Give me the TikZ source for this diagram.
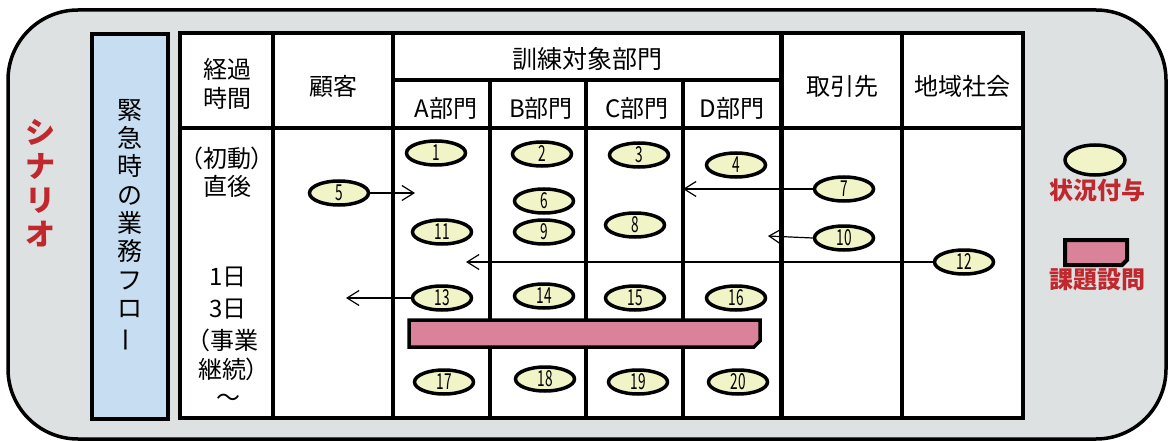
\documentclass[tikz,border=0pt]{standalone}
\usepackage{fontspec}
\setmainfont{Noto Sans CJK JP}
\newfontfamily\jpp[RawFeature=+palt]{Noto Sans CJK JP}
\usetikzlibrary{arrows.meta,shapes.geometric}
\definecolor{bgray}{HTML}{DEE1E2}
\definecolor{bblue}{HTML}{C6DDF2}
\definecolor{bpink}{HTML}{D9829A}
\definecolor{eyel}{HTML}{F0F4C6}
\definecolor{rred}{HTML}{C0282E}
\newcommand\nm[1]{\scalebox{0.62}[1]{#1}}
\tikzset{
  ev/.style={ellipse, draw, line width=3.5pt, fill=eyel, minimum width=59pt, minimum height=24pt, inner sep=0pt, font=\fontsize{22}{22}\selectfont},
  hd/.style={font=\fontsize{24}{29}\selectfont, align=center, inner sep=0pt},
  lg/.style={font=\fontsize{24}{29}\selectfont\bfseries, text=rred, inner sep=0pt},
  arr/.style={line width=1.2pt, -{Straight Barb[length=12pt,width=15pt]}},
  tline/.style={line width=3.5pt},
  bar/.style={draw, line width=3.5pt, fill=bpink, line join=miter}
}
\begin{document}
\begin{tikzpicture}[x=1pt,y=-1pt]
\useasboundingbox (0,0) rectangle (1170,441);
% outer frame
\draw[line width=3.5pt, fill=bgray, rounded corners=70pt] (8,10) rectangle (1166,439);
% left blue column
\draw[line width=4pt, fill=bblue] (92,34) rectangle (168,419);
\node[font=\fontsize{25}{28.3}\selectfont, align=center, inner sep=0pt] (flow) at (130,226)
  {緊\\急\\時\\の\\業\\務\\フ\\ロ\\\rotatebox[origin=c]{90}{ー}};
\node[font=\fontsize{30}{34}\selectfont\bfseries, text=rred, align=center, inner sep=0pt] (scn) at (40,183)
  {シ\\ナ\\リ\\オ};
% table
\fill[white] (180,33) rectangle (1023,418);
\draw[tline] (180,128) -- (1023,128);
\draw[tline] (393,80) -- (781,80);
\draw[tline] (273,33) -- (273,418);
\draw[tline] (393,33) -- (393,418);
\draw[line width=3.2pt] (490,80) -- (490,418);
\draw[line width=3.2pt] (586,80) -- (586,418);
\draw[line width=3.2pt] (683,80) -- (683,418);
\draw[line width=5pt] (781,33) -- (781,418);
\draw[tline] (902,33) -- (902,418);
\draw[line width=4pt] (180,33) rectangle (1023,418);
% header texts
\node[hd] (hkeika) at (227,84) {経過\\時間};
\node[hd] (hkokyaku) at (333,86) {顧客};
\node[hd, font=\fontsize{25}{29}\selectfont] (hkunren) at (587,59) {訓練対象部門};
\node[hd] (ha) at (446,108) {A部門};
\node[hd] (hb) at (541,108) {B部門};
\node[hd] (hc) at (637,108) {C部門};
\node[hd] (hd) at (732,108) {D部門};
\node[hd] (htori) at (842,86) {取引先};
\node[hd] (hchiiki) at (962,86) {地域社会};
% time column
\node[hd, font=\fontsize{24}{29}\selectfont\jpp] (t1) at (227,158) {（初動）};
\node[hd] (t2) at (227,186) {直後};
\node[hd] (t3) at (228,277) {1日};
\node[hd] (t4) at (228,309) {3日};
\node[hd, font=\fontsize{24}{29}\selectfont\jpp] (t5) at (228,340) {（事業};
\node[hd, font=\fontsize{24}{29}\selectfont\jpp] (t6) at (228,369) {継続）};
\node[hd] (t7) at (228,400) {～};
% issue bar
\draw[bar] (409,320) -- (760,320) -- (760,341) -- (754,347) -- (409,347) -- cycle;
% ellipses
\node[ev] (e1) at (436,153) {\nm{1}};
\node[ev] (e2) at (542,154) {\nm{2}};
\node[ev] (e3) at (639,155) {\nm{3}};
\node[ev] (e4) at (736,165) {\nm{4}};
\node[ev] (e5) at (339,193) {\nm{5}};
\node[ev] (e6) at (544,201) {\nm{6}};
\node[ev] (e7) at (844,189) {\nm{7}};
\node[ev] (e8) at (635,225) {\nm{8}};
\node[ev] (e9) at (544,232) {\nm{9}};
\node[ev] (e10) at (844,238) {\nm{10}};
\node[ev] (e11) at (442,232) {\nm{11}};
\node[ev] (e12) at (964,262) {\nm{12}};
\node[ev] (e13) at (442,298) {\nm{13}};
\node[ev] (e14) at (544,296) {\nm{14}};
\node[ev] (e15) at (635,298) {\nm{15}};
\node[ev] (e16) at (736,298) {\nm{16}};
\node[ev] (e17) at (444,382) {\nm{17}};
\node[ev] (e18) at (545,379) {\nm{18}};
\node[ev] (e19) at (638,382) {\nm{19}};
\node[ev] (e20) at (738,382) {\nm{20}};
% arrows
\coordinate (a5) at (415,193);
\coordinate (a7) at (683,189);
\coordinate (a10) at (768,236);
\coordinate (a12) at (466,262);
\coordinate (a13) at (346,298);
\draw[arr] (e5.east) -- (a5);
\draw[arr] (e7.west) -- (a7);
\draw[arr] (e10.west) -- (a10);
\draw[arr] (e12.west) -- (a12);
\draw[arr] (e13.west) -- (a13);
% legend
\node[ev, minimum width=60pt, minimum height=30pt] (lgE) at (1095,160) {};
\node[lg] (lgEt) at (1097,190) {状況付与};
\draw[bar, line width=4pt] (1065,240) -- (1127,240) -- (1127,260) -- (1122,265) -- (1065,265) -- cycle;
\node[lg] (lgBt) at (1097,280) {課題設問};
\end{tikzpicture}
\end{document}
